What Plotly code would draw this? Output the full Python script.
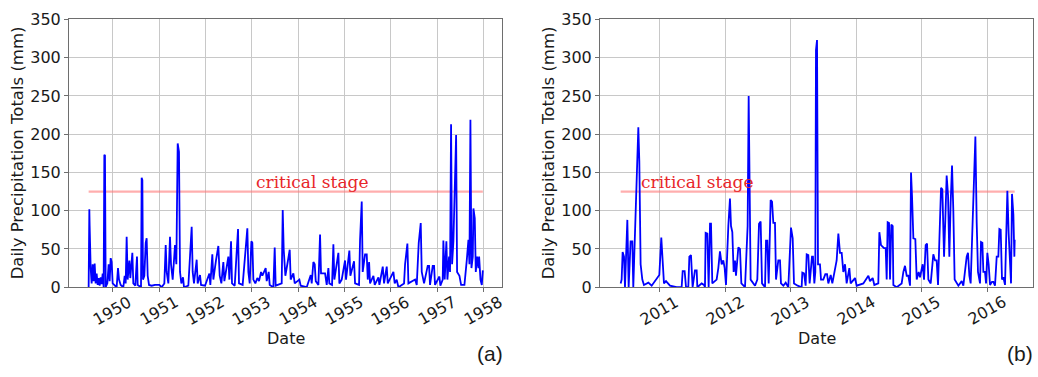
import plotly.graph_objects as go

# ---------------- data (decimal years, daily precipitation in mm) ----------------
years_a = [
    1949.474, 1949.489, 1949.496, 1949.518, 1949.539, 1949.561, 1949.582, 1949.604, 1949.625, 1949.647,
    1949.669, 1949.690, 1949.712, 1949.734, 1949.755, 1949.777, 1949.798, 1949.813, 1949.827, 1949.842,
    1949.878, 1949.906, 1949.928, 1949.950, 1949.971, 1949.993, 1950.043, 1950.079, 1950.108, 1950.130,
    1950.166, 1950.223, 1950.252, 1950.274, 1950.295, 1950.317, 1950.353, 1950.374, 1950.418, 1950.439,
    1950.482, 1950.518, 1950.533, 1950.605, 1950.619, 1950.634, 1950.648, 1950.677, 1950.706, 1950.727,
    1950.749, 1950.778, 1950.835, 1950.907, 1951.001, 1951.051, 1951.109, 1951.138, 1951.159, 1951.195,
    1951.231, 1951.253, 1951.289, 1951.339, 1951.368, 1951.397, 1951.425, 1951.447, 1951.476, 1951.512,
    1951.533, 1951.627, 1951.699, 1951.721, 1951.749, 1951.807, 1951.828, 1951.879, 1951.901, 1951.987,
    1952.081, 1952.102, 1952.145, 1952.167, 1952.224, 1952.253, 1952.275, 1952.304, 1952.340, 1952.383,
    1952.405, 1952.491, 1952.513, 1952.549, 1952.570, 1952.628, 1952.678, 1952.700, 1952.721, 1952.800,
    1952.901, 1952.923, 1952.952, 1952.988, 1953.009, 1953.031, 1953.074, 1953.117, 1953.153, 1953.197,
    1953.225, 1953.261, 1953.297, 1953.319, 1953.362, 1953.384, 1953.463, 1953.492, 1953.513, 1953.643,
    1953.665, 1953.686, 1953.722, 1953.765, 1953.816, 1953.837, 1953.895, 1953.924, 1954.024, 1954.053,
    1954.183, 1954.270, 1954.291, 1954.327, 1954.356, 1954.378, 1954.435, 1954.471, 1954.492, 1954.579,
    1954.615, 1954.651, 1954.672, 1954.730, 1954.759, 1954.780, 1954.867, 1954.888, 1954.939, 1955.011,
    1955.032, 1955.104, 1955.126, 1955.205, 1955.227, 1955.313, 1955.335, 1955.371, 1955.392, 1955.443,
    1955.479, 1955.501, 1955.530, 1955.551, 1955.623, 1955.652, 1955.731, 1955.753, 1955.825, 1955.853,
    1955.911, 1955.933, 1956.055, 1956.083, 1956.126, 1956.163, 1956.285, 1956.307, 1956.357, 1956.379,
    1956.451, 1956.523, 1956.559, 1956.602, 1956.645, 1956.667, 1956.717, 1956.796, 1956.825, 1956.846,
    1956.904, 1956.933, 1956.954, 1957.048, 1957.069, 1957.120, 1957.134, 1957.163, 1957.199, 1957.221,
    1957.257, 1957.278, 1957.300, 1957.322, 1957.351, 1957.380, 1957.409, 1957.430, 1957.481, 1957.517,
    1957.589, 1957.639, 1957.675, 1957.697, 1957.718, 1957.740, 1957.769, 1957.783, 1957.812, 1957.834,
    1957.862, 1957.891, 1957.906, 1957.935, 1957.964, 1957.986,
]
precip_a = [
    0, 102, 80, 25, 5, 30, 8, 31, 5, 18,
    3, 12, 2, 13, 4, 18, 0, 173, 172, 0,
    5, 30, 8, 38, 33, 5, 2, 0, 25, 10,
    3, 0, 15, 5, 66, 10, 35, 12, 45, 5,
    2, 40, 3, 0, 143, 140, 10, 15, 58, 64,
    15, 3, 2, 3, 3, 0, 5, 55, 20, 5,
    66, 30, 10, 55, 30, 188, 177, 20, 5, 13,
    0, 2, 79, 20, 5, 36, 5, 16, 3, 2,
    18, 3, 43, 10, 35, 45, 54, 15, 5, 33,
    8, 40, 10, 60, 5, 2, 60, 76, 5, 3,
    77, 20, 5, 60, 58, 10, 5, 12, 8, 20,
    15, 20, 25, 8, 20, 3, 0, 52, 2, 5,
    101, 50, 15, 30, 49, 10, 18, 5, 10, 2,
    0, 16, 5, 33, 30, 8, 3, 69, 18, 18,
    3, 25, 5, 3, 56, 10, 45, 5, 10, 35,
    10, 48, 15, 34, 5, 3, 62, 112, 20, 43,
    43, 10, 33, 5, 15, 3, 13, 3, 27, 5,
    27, 5, 20, 5, 10, 0, 5, 30, 57, 5,
    8, 10, 3, 58, 84, 20, 5, 28, 28, 3,
    28, 28, 3, 14, 2, 10, 61, 10, 60, 10,
    40, 20, 213, 30, 60, 150, 199, 20, 15, 3,
    3, 35, 62, 30, 219, 25, 40, 103, 90, 20,
    40, 25, 40, 10, 3, 22,
]

years_b = [
    2010.399, 2010.414, 2010.429, 2010.450, 2010.465, 2010.490, 2010.501, 2010.521, 2010.551, 2010.577,
    2010.592, 2010.669, 2010.684, 2010.704, 2010.730, 2010.755, 2010.822, 2010.873, 2010.959, 2010.990,
    2011.020, 2011.041, 2011.061, 2011.092, 2011.153, 2011.255, 2011.331, 2011.347, 2011.377, 2011.398,
    2011.433, 2011.449, 2011.474, 2011.499, 2011.535, 2011.561, 2011.571, 2011.637, 2011.673, 2011.688,
    2011.698, 2011.724, 2011.744, 2011.765, 2011.780, 2011.800, 2011.866, 2011.892, 2011.917, 2011.943,
    2011.968, 2011.989, 2012.009, 2012.045, 2012.070, 2012.086, 2012.106, 2012.126, 2012.147, 2012.162,
    2012.198, 2012.223, 2012.244, 2012.300, 2012.340, 2012.356, 2012.371, 2012.386, 2012.453, 2012.488,
    2012.514, 2012.539, 2012.560, 2012.606, 2012.621, 2012.641, 2012.662, 2012.692, 2012.713, 2012.733,
    2012.758, 2012.774, 2012.809, 2012.835, 2012.850, 2012.886, 2012.922, 2012.962, 2013.003, 2013.029,
    2013.049, 2013.105, 2013.166, 2013.176, 2013.202, 2013.227, 2013.243, 2013.268, 2013.288, 2013.324,
    2013.339, 2013.360, 2013.375, 2013.385, 2013.401, 2013.416, 2013.446, 2013.462, 2013.497, 2013.528,
    2013.554, 2013.574, 2013.610, 2013.635, 2013.701, 2013.727, 2013.752, 2013.778, 2013.803, 2013.829,
    2013.854, 2013.895, 2013.915, 2013.982, 2014.007, 2014.109, 2014.186, 2014.211, 2014.252, 2014.277,
    2014.338, 2014.354, 2014.379, 2014.405, 2014.425, 2014.451, 2014.466, 2014.481, 2014.502, 2014.517,
    2014.537, 2014.558, 2014.568, 2014.619, 2014.695, 2014.721, 2014.746, 2014.772, 2014.797, 2014.823,
    2014.838, 2014.853, 2014.874, 2014.904, 2014.925, 2014.955, 2014.976, 2015.016, 2015.037, 2015.062,
    2015.083, 2015.103, 2015.139, 2015.179, 2015.205, 2015.230, 2015.251, 2015.271, 2015.297, 2015.317,
    2015.343, 2015.363, 2015.383, 2015.404, 2015.424, 2015.444, 2015.465, 2015.485, 2015.505, 2015.562,
    2015.613, 2015.638, 2015.689, 2015.709, 2015.730, 2015.750, 2015.791, 2015.822, 2015.842, 2015.862,
    2015.893, 2015.908, 2015.929, 2015.944, 2015.969, 2015.985, 2016.005, 2016.025, 2016.046, 2016.076,
    2016.097, 2016.122, 2016.148, 2016.173, 2016.189, 2016.209, 2016.229, 2016.250, 2016.275, 2016.291,
    2016.311, 2016.331, 2016.352, 2016.367, 2016.382, 2016.403, 2016.418, 2016.423,
]
precip_b = [
    5, 10, 46, 40, 0, 88, 88, 0, 60, 60,
    0, 209, 165, 30, 10, 3, 6, 2, 12, 16,
    65, 40, 5, 8, 2, 0, 0, 21, 21, 0,
    0, 40, 42, 0, 22, 22, 0, 5, 3, 0,
    71, 70, 0, 83, 83, 5, 10, 25, 47, 30,
    35, 25, 3, 80, 116, 80, 72, 20, 35, 15,
    52, 50, 5, 0, 80, 250, 150, 10, 2, 10,
    83, 86, 5, 0, 61, 61, 5, 114, 112, 84,
    84, 10, 35, 35, 5, 2, 6, 0, 78, 64,
    5, 2, 0, 19, 18, 2, 43, 42, 5, 40,
    40, 5, 20, 310, 323, 30, 30, 10, 10, 17,
    17, 5, 16, 5, 35, 70, 45, 45, 20, 30,
    5, 25, 5, 12, 2, 5, 15, 8, 12, 3,
    5, 72, 55, 53, 51, 51, 10, 85, 84, 10,
    82, 80, 3, 0, 5, 20, 28, 15, 15, 2,
    150, 120, 64, 63, 10, 20, 13, 30, 10, 55,
    57, 10, 5, 43, 35, 35, 3, 60, 130, 128,
    40, 90, 146, 120, 40, 110, 159, 100, 10, 2,
    8, 2, 40, 45, 15, 5, 110, 197, 85, 20,
    5, 59, 58, 20, 20, 5, 45, 30, 3, 7,
    7, 2, 40, 40, 76, 75, 10, 13, 3, 60,
    126, 70, 30, 5, 122, 95, 40, 62,
]

CRITICAL = 125
ticks_a = [1950, 1951, 1952, 1953, 1954, 1955, 1956, 1957, 1958]
ticks_b = [2011, 2012, 2013, 2014, 2015, 2016]
y_ticks = [0, 50, 100, 150, 200, 250, 300, 350]

# ---------------- figure ----------------
W, H = 1038, 377
FONT = "DejaVu Sans"
TXT = "#1a1a1a"

fig = go.Figure()

panels = [
    ("x", "y", years_a, precip_a, ticks_a, 1953.05),
    ("x2", "y2", years_b, precip_b, ticks_b, 2010.68),
]

for xr, yr, xs, ys, tks, txt_x in panels:
    fig.add_trace(go.Scatter(
        x=[xs[0], xs[-1]], y=[CRITICAL, CRITICAL], mode="lines",
        line=dict(color="rgba(255,120,120,0.6)", width=2.2),
        xaxis=xr, yaxis=yr, showlegend=False, hoverinfo="skip"))
    fig.add_trace(go.Scatter(
        x=xs, y=ys, mode="lines",
        line=dict(color="#0000ff", width=1.8),
        xaxis=xr, yaxis=yr, showlegend=False))
    fig.add_annotation(x=txt_x, y=138, xref=xr, yref=yr, text="critical stage",
                       showarrow=False, xanchor="left", yanchor="middle",
                       font=dict(family="DejaVu Serif", size=17, color="#e8262a"))
    for t in tks:
        fig.add_annotation(x=t, y=1 - 318 / H, xref=xr, yref="paper", text=str(t),
                           showarrow=False, textangle=-30, xanchor="center", yanchor="middle",
                           font=dict(family=FONT, size=16, color=TXT))

axis_common = dict(showgrid=True, gridcolor="#c8c8c8", gridwidth=1,
                   showline=True, linecolor="#6e6e6e", linewidth=1, mirror=True,
                   ticks="outside", ticklen=4, tickcolor="#6e6e6e", zeroline=False)

fig.update_layout(
    width=W, height=H,
    margin=dict(l=0, r=0, t=0, b=0),
    paper_bgcolor="white", plot_bgcolor="white",
    font=dict(family=FONT, size=16, color=TXT),
    xaxis=dict(domain=[69 / W, 502 / W], range=[1949.05, 1958.40], anchor="y",
               tickvals=ticks_a, showticklabels=False, **axis_common),
    yaxis=dict(domain=[1 - 293 / H, 1 - 11 / H], range=[0, 350], anchor="x",
               tickvals=y_ticks, **axis_common),
    xaxis2=dict(domain=[600 / W, 1033 / W], range=[2010.083, 2016.703], anchor="y2",
                tickvals=ticks_b, showticklabels=False, **axis_common),
    yaxis2=dict(domain=[1 - 293 / H, 1 - 11 / H], range=[0, 350], anchor="x2",
                tickvals=y_ticks, **axis_common),
)

# axis titles
for xc, yc in [(17, 152), (548, 152)]:
    fig.add_annotation(x=xc / W, y=1 - yc / H, xref="paper", yref="paper",
                       text="Daily Precipitation Totals (mm)", textangle=-90, showarrow=False,
                       xanchor="center", yanchor="middle", font=dict(family=FONT, size=16.5, color=TXT))
for xc in [286, 817]:
    fig.add_annotation(x=xc / W, y=1 - 347 / H, xref="paper", yref="paper", text="Date",
                       showarrow=False, xanchor="center", yanchor="middle",
                       font=dict(family=FONT, size=16, color=TXT))
for xc, lab in [(490, "(a)"), (1020, "(b)")]:
    fig.add_annotation(x=xc / W, y=1 - 363 / H, xref="paper", yref="paper", text=lab,
                       showarrow=False, xanchor="center", yanchor="middle",
                       font=dict(family="Liberation Sans", size=21, color=TXT))

fig.write_html("out.html")
